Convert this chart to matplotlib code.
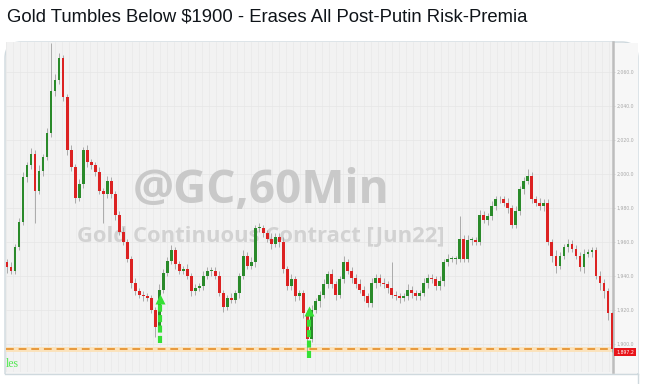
import matplotlib
matplotlib.use("Agg")
import matplotlib.pyplot as plt
from matplotlib.patches import FancyBboxPatch, Rectangle
from matplotlib.transforms import blended_transform_factory
import numpy as np

# ---------------- data ----------------
title = "Gold Tumbles Below $1900 - Erases All Post-Putin Risk-Premia"
first_open = 1948
closes = [1945, 1943, 1957, 1972, 1998, 2005, 2012, 1990, 2002, 2010,
          2024, 2049, 2055, 2068, 2045, 2014, 2004, 1986, 1994, 2014,
          2007, 2005, 2001, 1990, 1988, 1996, 1988, 1976, 1966, 1960,
          1950, 1936, 1931, 1929, 1928, 1927, 1920, 1910, 1932, 1942,
          1949, 1955, 1947, 1943, 1944, 1940, 1931, 1933, 1934, 1940,
          1943, 1943, 1940, 1930, 1922, 1927, 1926, 1930, 1940, 1952,
          1946, 1948, 1968, 1968, 1965, 1962, 1959, 1963, 1960, 1944,
          1934, 1938, 1928, 1930, 1918, 1903, 1920, 1925, 1929, 1935,
          1941, 1935, 1929, 1938, 1948, 1943, 1939, 1935, 1932, 1928,
          1924, 1936, 1939, 1936, 1935, 1933, 1929, 1928, 1927, 1928,
          1932, 1930, 1928, 1930, 1936, 1939, 1938, 1934, 1937, 1948,
          1950, 1950, 1950, 1962, 1950, 1961, 1961, 1960, 1976, 1973,
          1975, 1981, 1985, 1985, 1983, 1980, 1970, 1978, 1991, 1996,
          1999, 1985, 1983, 1981, 1983, 1960, 1952, 1946, 1952, 1957,
          1959, 1956, 1952, 1945, 1953, 1954, 1955, 1940, 1936, 1931,
          1918, 1897.2]
wick_up = [2, 3, 2, 2, 3, 2, 3, 2, 3, 2,
           3, 28, 4, 3, 2, 2, 3, 2, 3, 2,
           3, 2, 2, 3, 2, 3, 2, 2, 2, 3,
           2, 2, 3, 2, 2, 2, 2, 2, 3, 2,
           2, 3, 2, 2, 2, 3, 2, 2, 2, 3,
           2, 2, 2, 3, 2, 2, 3, 2, 2, 3,
           2, 3, 2, 3, 2, 2, 3, 2, 2, 3,
           2, 3, 2, 2, 2, 2, 3, 2, 2, 3,
           2, 3, 2, 2, 4, 2, 2, 2, 3, 2,
           2, 3, 2, 2, 3, 2, 15, 2, 2, 2,
           3, 2, 2, 2, 3, 2, 2, 2, 3, 2,
           3, 2, 2, 13, 2, 3, 2, 2, 3, 2,
           2, 3, 2, 2, 2, 3, 2, 3, 2, 2,
           4, 2, 2, 3, 2, 2, 2, 3, 2, 2,
           3, 2, 2, 2, 3, 2, 2, 2, 3, 2,
           2, 1]
wick_dn = [3, 2, 2, 2, 2, 3, 2, 19, 2, 3,
           2, 2, 3, 2, 2, 3, 2, 3, 2, 2,
           3, 2, 2, 2, 17, 2, 2, 3, 2, 2,
           2, 3, 2, 2, 3, 2, 2, 6, 2, 2,
           2, 2, 3, 2, 2, 2, 3, 2, 2, 2,
           2, 3, 2, 2, 3, 2, 2, 2, 3, 2,
           2, 2, 3, 2, 2, 2, 3, 2, 3, 2,
           2, 2, 3, 2, 3, 7, 2, 2, 3, 2,
           2, 2, 3, 2, 2, 2, 3, 2, 2, 3,
           2, 2, 3, 2, 2, 3, 2, 2, 3, 2,
           2, 3, 2, 2, 2, 3, 2, 2, 2, 3,
           2, 2, 3, 2, 2, 2, 3, 2, 2, 2,
           3, 2, 2, 2, 2, 3, 2, 2, 2, 3,
           2, 2, 2, 2, 3, 2, 4, 4, 2, 2,
           3, 2, 2, 2, 3, 2, 3, 2, 4, 4,
           4, 2]
tick_values = [1900, 1920, 1940, 1960, 1980, 2000, 2020, 2040, 2060]
support_level = 1897.2
# dashed green arrows: (candle index, start price, end price)
arrows = [(38.25, 1900.5, 1926.5), (75.3, 1892.0, 1919.5)]
watermark1 = "@GC,60Min"
watermark2 = "Gold Continuous Contract [Jun22]"

# ---------------- figure ----------------
W, H = 649, 384
fig = plt.figure(figsize=(W / 100, H / 100), dpi=100)
fig.patch.set_facecolor("white")

# background overlay in pixel coordinates (card)
bg = fig.add_axes([0, 0, 1, 1])
bg.set_xlim(0, W)
bg.set_ylim(H, 0)
bg.axis("off")
card = FancyBboxPatch((5, 42), 633, 360, boxstyle="round,pad=0,rounding_size=16",
                      fc="#f4f4f4", ec="#cfd9de", lw=1.0)
bg.add_patch(card)
bg.add_patch(Rectangle((0, 373.5), W, 20, fc="white", ec="none", zorder=2))
bg.plot([5, 638], [373.5, 373.5], color="#cfd9de", lw=1.0, zorder=3)
bg.plot([638, 638], [373.5, 384], color="#cfd9de", lw=1.0, zorder=3)
bg.add_patch(Rectangle((614, 43), 23.5, 330, fc="#f7f7f7", ec="none", zorder=1))

fig.text(7 / W, 1 - 17 / H, title, fontsize=13.35, family="Liberation Sans",
         color="#0f1419", va="center", ha="left")
fig.text(5.5 / W, 1 - 364 / H, "les", fontsize=8.5, family="Liberation Serif",
         color="#4ee84e", va="center", ha="left")

# main chart axes
left_px, right_px, top_px, bot_px = 6, 613, 42, 372
ax = fig.add_axes([left_px / W, 1 - bot_px / H, (right_px - left_px) / W, (bot_px - top_px) / H])
ax.set_facecolor("#f2f2f2")
n = len(closes)
x = np.arange(n)
opens = [first_open] + closes[:-1]
highs = [max(o, c) + u for o, c, u in zip(opens, closes, wick_up)]
lows = [min(o, c) - d for o, c, d in zip(opens, closes, wick_dn)]

ax.set_xlim(-0.25, n - 0.75)
ax.set_ylim(1883.5, 2077.6)

# faint grid
for gx in np.arange(-0.25, n, 1.75):
    ax.axvline(gx, color="#e9e9e9", lw=0.5, zorder=0)
for t in tick_values:
    ax.axhline(t, color="#e6e6e6", lw=0.5, zorder=0)

# watermarks
ax.text(0.42, 0.55, watermark1, transform=ax.transAxes, fontsize=33, fontweight="bold",
        family="Open Sans", color="#c9c9c9", ha="center", va="center", zorder=1)
ax.text(0.419, 0.412, watermark2, transform=ax.transAxes, fontsize=15.8, fontweight="bold",
        family="Open Sans", color="#d2d2d2", ha="center", va="center", zorder=1)

# support line
ax.axhline(support_level, color="#fbe2bb", lw=3.5, zorder=2)
ax.axhline(support_level, color="#e89a3c", lw=1.4, ls=(0, (4, 2.5)), zorder=3)

# candles
up_c, dn_c = "#2a8a2a", "#dc2222"
colors = [up_c if c >= o else dn_c for o, c in zip(opens, closes)]
ax.vlines(x, lows, highs, color="#a0a0a0", lw=0.6, zorder=4)
bottoms = [min(o, c) for o, c in zip(opens, closes)]
heights = [max(abs(c - o), 0.5) for o, c in zip(opens, closes)]
ax.bar(x, heights, bottom=bottoms, width=0.7, color=colors, lw=0, zorder=5)

# green dashed arrows
for ix, y0, y1 in arrows:
    ax.plot([ix, ix], [y0, y1 - 2.5], color="#35e035", lw=3.0, ls=(0, (1.7, 0.8)), zorder=6,
            solid_capstyle="butt", dash_capstyle="butt")
    ax.plot([ix], [y1], marker="^", ms=7, color="#35e035", zorder=6, mec="none")

# right axis
ax.yaxis.tick_right()
ax.set_yticks(tick_values)
ax.set_yticklabels([f"{t:,.1f}" for t in tick_values])
ax.tick_params(axis="y", labelsize=3.3, labelcolor="#a8a8a8", color="#c8c8c8",
               length=1.5, width=0.5, pad=0.8)
ax.tick_params(axis="x", bottom=False, labelbottom=False)
for s in ["top", "left", "bottom"]:
    ax.spines[s].set_visible(False)
ax.spines["right"].set_color("#bdbdbd")
ax.spines["right"].set_linewidth(1.8)

tr = blended_transform_factory(ax.transAxes, ax.transData)
ax.text(1.005, support_level - 1.8, f"{closes[-1]:,.1f}", transform=tr, fontsize=3.3,
        color="white", va="center", ha="left", clip_on=False, zorder=10,
        bbox=dict(boxstyle="square,pad=0.35", fc="#e8141a", ec="none"))

fig.savefig("out.png", dpi=100)
